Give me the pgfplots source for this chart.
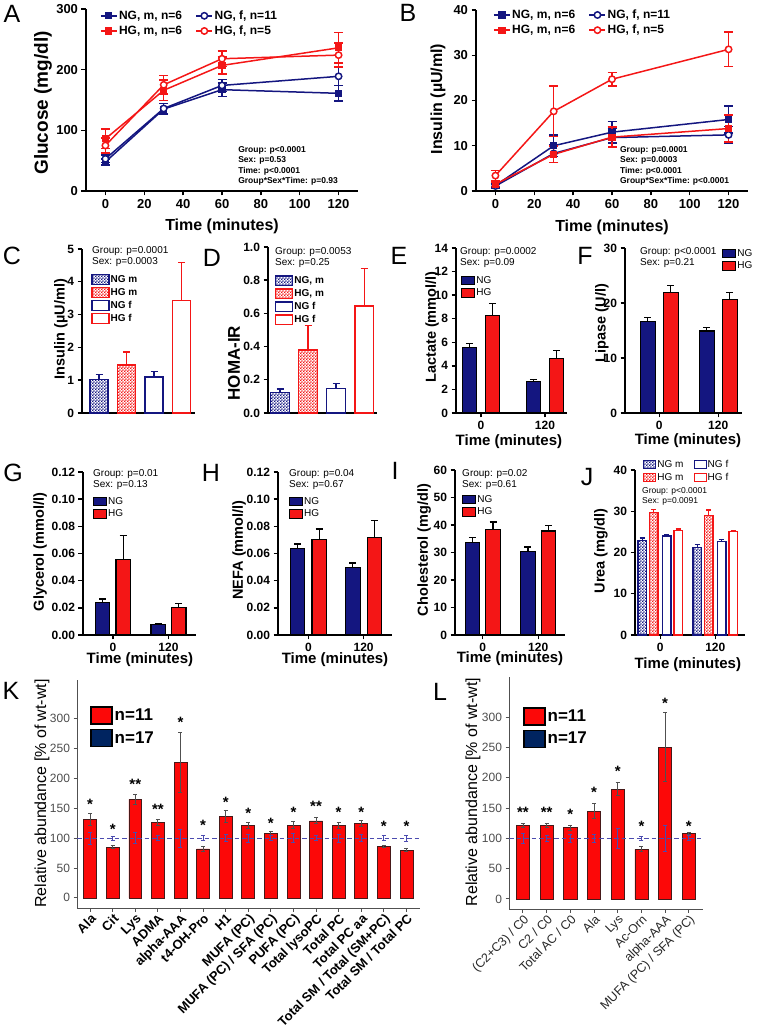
\documentclass[border=0pt]{standalone}
\usepackage{fontspec}
\setmainfont{Liberation Sans}
\usepackage{pgfplots}
\pgfplotsset{compat=1.18}
\usetikzlibrary{patterns}
\definecolor{ngb}{RGB}{20,22,128}
\definecolor{hgr}{RGB}{244,22,22}
\definecolor{kred}{RGB}{252,8,8}
\definecolor{kout}{RGB}{70,25,25}
\definecolor{knavy}{RGB}{0,36,96}
\definecolor{kblue}{RGB}{75,75,175}
\definecolor{kgrey}{RGB}{80,80,80}
\definecolor{ktick}{RGB}{77,77,77}
\pgfdeclarepatternformonly{smallcheck}{\pgfpointorigin}{\pgfpoint{3.2pt}{3.2pt}}{\pgfpoint{3.2pt}{3.2pt}}{%
  \pgfpathrectangle{\pgfpointorigin}{\pgfpoint{1.6pt}{1.6pt}}%
  \pgfpathrectangle{\pgfpoint{1.6pt}{1.6pt}}{\pgfpoint{1.6pt}{1.6pt}}%
  \pgfusepath{fill}}
\pgfplotsset{
  gp/.style={scale only axis, clip=false, axis lines*=left,
    axis line style={line width=1.4pt,-},
    every tick/.style={line width=1.4pt,black},
    major tick length=4.5pt, tick align=outside,
    /pgf/number format/assume math mode=true,
    ticklabel style={font=\bfseries\fontsize{12}{12}\selectfont},
    label style={font=\bfseries\fontsize{15}{15}\selectfont, anchor=center},
    ylabel style={font=\bfseries\fontsize{14.5}{14.5}\selectfont},
    legend cell align=left},
  gg/.style={scale only axis, clip=false, axis lines*=left,
    axis line style={line width=1pt,kgrey,-},
    every tick/.style={line width=1pt,kgrey},
    major tick length=3.5pt, tick align=outside,
    /pgf/number format/assume math mode=true,
    yticklabel style={font=\fontsize{12}{12}\selectfont, ktick},
    label style={font=\fontsize{16}{16}\selectfont, anchor=center},
    legend cell align=left},
  boxleg/.style 2 args={legend image code/.code={\draw[##1] (0pt,-#2) rectangle (#1,#2);}},
  kleg/.style={legend image code/.code={\draw[##1, draw=black, line width=1.5pt] (0pt,-8.5pt) rectangle (21pt,8.5pt);}},
  ebar/.style={error bars/.cd, y dir=plus, y explicit,
    error bar style={line width=1.2pt,#1},
    error mark options={rotate=90,mark size=3.5pt,line width=1.2pt,#1}},
  lyerr/.style={error bars/.cd, y dir=both, y explicit,
    error bar style={line width=1.5pt, solid},
    error mark options={rotate=90, mark size=4.5pt, line width=1.5pt}},
  gpleg/.style={legend style={at={(#1)}, anchor=north west, draw=none, fill=none, inner sep=0pt, row sep=2.2pt, font=\fontsize{10}{10}\selectfont, nodes={inner sep=1pt}}},
  lineleg/.style={legend columns=2,
    legend style={at={(#1)}, anchor=north west, draw=none, fill=none, inner sep=0pt, row sep=2pt, font=\bfseries\fontsize{12}{12}\selectfont, nodes={inner sep=1.5pt}, /tikz/every even column/.append style={column sep=12pt}},
    legend image code/.code={\draw[mark repeat=2,mark phase=2,##1] plot coordinates {(0pt,0pt) (8pt,0pt) (16pt,0pt)};}},
}
\begin{document}
\begin{tikzpicture}
\useasboundingbox (0,0) rectangle (757pt,1028pt);

% ---------------- A ----------------
\begin{axis}[gp, at={(86pt,837pt)}, anchor=south west, width=272pt, height=182pt,
  xmin=-10, xmax=130, ymin=0, ymax=300,
  xtick={0,20,40,60,80,100,120}, ytick={0,100,200,300},
  ticklabel style={font=\bfseries\fontsize{13}{13}\selectfont},
  xlabel={Time (minutes)}, ylabel={Glucose (mg/dl)},
  xlabel style={font=\bfseries\fontsize{16}{16}\selectfont, at={(axis description cs:0.5,-0.192)}},
  ylabel style={font=\bfseries\fontsize{19}{19}\selectfont, at={(axis description cs:-0.158,0.484)}},
  lineleg={0.051,1.0}]
\addplot[ngb, line width=1.5pt, mark=square*, mark size=2.8pt, lyerr] coordinates {(0,48) +- (0,5) (30,135) +- (0,9) (60,167) +- (0,11) (120,161) +- (0,13)};
\addlegendentry{NG, m, n=6}
\addplot[ngb, line width=1.5pt, mark=*, mark size=3.2pt, mark options={fill=white}, lyerr] coordinates {(0,53) +- (0,6) (30,136) +- (0,8) (60,174) +- (0,10) (120,189) +- (0,15)};
\addlegendentry{NG, f, n=11}
\addplot[hgr, line width=1.5pt, mark=square*, mark size=2.8pt, lyerr] coordinates {(0,86) +- (0,16) (30,166) +- (0,17) (60,207) +- (0,14) (120,236) +- (0,25)};
\addlegendentry{HG, m, n=6}
\addplot[hgr, line width=1.5pt, mark=*, mark size=3.2pt, mark options={fill=white}, lyerr] coordinates {(0,75) +- (0,12) (30,175) +- (0,15) (60,218) +- (0,13) (120,224) +- (0,20)};
\addlegendentry{HG, f, n=5}
\node[anchor=north west, align=left, inner sep=0pt, font=\bfseries\fontsize{8.5}{10.5}\selectfont] at (rel axis cs:0.559,0.247) {Group: p<0.0001\\Sex: p=0.53\\Time: p<0.0001\\Group*Sex*Time: p=0.93};
\end{axis}

% ---------------- B ----------------
\begin{axis}[gp, at={(476pt,837pt)}, anchor=south west, width=272pt, height=181pt,
  xmin=-10, xmax=130, ymin=0, ymax=40,
  xtick={0,20,40,60,80,100,120}, ytick={0,10,20,30,40},
  ticklabel style={font=\bfseries\fontsize{13}{13}\selectfont},
  xlabel={Time (minutes)}, ylabel={Insulin (µU/ml)},
  xlabel style={font=\bfseries\fontsize{16}{16}\selectfont, at={(axis description cs:0.5,-0.199)}},
  ylabel style={font=\bfseries\fontsize{16}{16}\selectfont, at={(axis description cs:-0.14,0.508)}},
  lineleg={0.0625,1.01}]
\addplot[ngb, line width=1.5pt, mark=square*, mark size=2.8pt, lyerr] coordinates {(0,1.2) +- (0,0.4) (30,10.0) +- (0,2.4) (60,13.0) +- (0,2.4) (120,15.8) +- (0,3.0)};
\addlegendentry{NG, m, n=6}
\addplot[ngb, line width=1.5pt, mark=*, mark size=3.2pt, mark options={fill=white}, lyerr] coordinates {(0,1.1) +- (0,0.4) (30,8.3) +- (0,2.0) (60,11.8) +- (0,2.0) (120,12.4) +- (0,1.8)};
\addlegendentry{NG, f, n=11}
\addplot[hgr, line width=1.5pt, mark=square*, mark size=2.8pt, lyerr] coordinates {(0,1.5) +- (0,0.5) (30,8.1) +- (0,1.8) (60,11.9) +- (0,2.2) (120,13.8) +- (0,3.0)};
\addlegendentry{HG, m, n=6}
\addplot[hgr, line width=1.5pt, mark=*, mark size=3.2pt, mark options={fill=white}, lyerr] coordinates {(0,3.4) +- (0,1.1) (30,17.6) +- (0,5.6) (60,24.7) +- (0,1.5) (120,31.3) +- (0,3.8)};
\addlegendentry{HG, f, n=5}
\node[anchor=north west, align=left, inner sep=0pt, font=\bfseries\fontsize{8.5}{10.5}\selectfont] at (rel axis cs:0.529,0.249) {Group: p=0.0001\\Sex: p=0.0003\\Time: p<0.0001\\Group*Sex*Time: p<0.0001};
\end{axis}

% ---------------- C ----------------
\begin{axis}[gp, at={(82pt,615pt)}, anchor=south west, width=113pt, height=164pt,
  xmin=0.38, xmax=4.49, ymin=0, ymax=5, xtick=\empty, ytick={0,1,2,3,4,5},
  ylabel={Insulin (µU/ml)}, ylabel style={at={(axis description cs:-0.186,0.512)}},
  gpleg={0.08,0.848}, legend style={font=\bfseries\fontsize{10}{10}\selectfont}]
\addplot[ybar, bar width=0.65, bar shift=0pt, draw=ngb, line width=1.3pt, pattern=smallcheck, pattern color=ngb, boxleg={17pt}{4.75pt}, ebar=ngb] coordinates {(1,1.03) +- (0,0.15)};
\addlegendentry{NG m}
\addplot[ybar, bar width=0.65, bar shift=0pt, draw=hgr, line width=1.3pt, pattern=smallcheck, pattern color=hgr, boxleg={17pt}{4.75pt}, ebar=hgr] coordinates {(2,1.46) +- (0,0.40)};
\addlegendentry{HG m}
\addplot[ybar, bar width=0.65, bar shift=0pt, draw=ngb, line width=1.3pt, fill=white, boxleg={17pt}{4.75pt}, ebar=ngb] coordinates {(3,1.10) +- (0,0.17)};
\addlegendentry{NG f}
\addplot[ybar, bar width=0.65, bar shift=0pt, draw=hgr, line width=1.3pt, fill=white, boxleg={17pt}{4.75pt}, ebar=hgr] coordinates {(4,3.42) +- (0,1.17)};
\addlegendentry{HG f}
\node[anchor=north west, align=left, inner sep=0pt, font=\fontsize{10}{11}\selectfont] at (rel axis cs:0.088,1.018) {Group: p=0.0001\\Sex: p=0.0003};
\end{axis}

% ---------------- D ----------------
\begin{axis}[gp, at={(268pt,615pt)}, anchor=south west, width=109pt, height=166pt,
  xmin=0.57, xmax=4.46, ymin=0, ymax=1, xtick=\empty, ytick={0,0.2,0.4,0.6,0.8,1.0},
  scaled y ticks=false, yticklabel style={/pgf/number format/.cd, fixed, fixed zerofill, precision=1},
  ylabel={HOMA-IR}, ylabel style={font=\bfseries\fontsize{17}{17}\selectfont, at={(axis description cs:-0.312,0.301)}},
  gpleg={0.064,0.831}, legend style={font=\bfseries\fontsize{10}{10}\selectfont}]
\addplot[ybar, bar width=0.66, bar shift=0pt, draw=ngb, line width=1.3pt, pattern=smallcheck, pattern color=ngb, boxleg={17pt}{4.75pt}, ebar=ngb] coordinates {(1,0.125) +- (0,0.02)};
\addlegendentry{NG, m}
\addplot[ybar, bar width=0.66, bar shift=0pt, draw=hgr, line width=1.3pt, pattern=smallcheck, pattern color=hgr, boxleg={17pt}{4.75pt}, ebar=hgr] coordinates {(2,0.38) +- (0,0.145)};
\addlegendentry{HG, m}
\addplot[ybar, bar width=0.66, bar shift=0pt, draw=ngb, line width=1.3pt, fill=white, boxleg={17pt}{4.75pt}, ebar=ngb] coordinates {(3,0.148) +- (0,0.03)};
\addlegendentry{NG f}
\addplot[ybar, bar width=0.66, bar shift=0pt, draw=hgr, line width=1.3pt, fill=white, boxleg={17pt}{4.75pt}, ebar=hgr] coordinates {(4,0.645) +- (0,0.225)};
\addlegendentry{HG f}
\node[anchor=north west, align=left, inner sep=0pt, font=\fontsize{10}{11}\selectfont] at (rel axis cs:0.064,1.0) {Group: p=0.0053\\Sex: p=0.25};
\end{axis}

% ---------------- E ----------------
\begin{axis}[gp, at={(456pt,615pt)}, anchor=south west, width=111pt, height=165pt,
  xmin=-0.39, xmax=1.344, ymin=0, ymax=14, xtick={0,1}, xticklabels={0,120}, ytick={0,2,4,6,8,10,12,14},
  xlabel={Time (minutes)}, xlabel style={at={(axis description cs:0.477,-0.176)}},
  ylabel={Lactate (mmol/l)}, ylabel style={at={(axis description cs:-0.216,0.521)}},
  gpleg={0.045,0.836}]
\addplot[ybar, bar width=0.23, bar shift=0pt, fill=ngb, draw=black, line width=1.1pt, boxleg={13pt}{4.25pt}, ebar=black] coordinates {(-0.18,5.55) +- (0,0.35) (0.82,2.7) +- (0,0.12)};
\addlegendentry{NG}
\addplot[ybar, bar width=0.23, bar shift=0pt, fill=hgr, draw=black, line width=1.1pt, boxleg={13pt}{4.25pt}, ebar=black] coordinates {(0.18,8.3) +- (0,1.0) (1.18,4.6) +- (0,0.7)};
\addlegendentry{HG}
\node[anchor=north west, align=left, inner sep=0pt, font=\fontsize{10}{11}\selectfont] at (rel axis cs:0.036,1.006) {Group: p=0.0002\\Sex: p=0.09};
\end{axis}

% ---------------- F ----------------
\begin{axis}[gp, at={(625pt,615pt)}, anchor=south west, width=117pt, height=165pt,
  xmin=-0.58, xmax=1.403, ymin=0, ymax=30, xtick={0,1}, xticklabels={0,120}, ytick={0,10,20,30},
  xlabel={Time (minutes)}, xlabel style={at={(axis description cs:0.538,-0.17)}},
  ylabel={Lipase (U/l)}, ylabel style={at={(axis description cs:-0.197,0.545)}},
  gpleg={0.829,1.0}]
\addplot[ybar, bar width=0.25, bar shift=0pt, fill=ngb, draw=black, line width=1.1pt, boxleg={13pt}{4.25pt}, ebar=black] coordinates {(-0.195,16.6) +- (0,0.7) (0.805,14.9) +- (0,0.6)};
\addlegendentry{NG}
\addplot[ybar, bar width=0.25, bar shift=0pt, fill=hgr, draw=black, line width=1.1pt, boxleg={13pt}{4.25pt}, ebar=black] coordinates {(0.195,21.9) +- (0,1.3) (1.195,20.6) +- (0,1.3)};
\addlegendentry{HG}
\node[anchor=north west, align=left, inner sep=0pt, font=\fontsize{10}{11}\selectfont] at (rel axis cs:0.128,1.006) {Group: p<0.0001\\Sex: p=0.21};
\end{axis}

% ---------------- G ----------------
\begin{axis}[gp, at={(83pt,393pt)}, anchor=south west, width=113pt, height=163pt,
  xmin=-0.54, xmax=1.496, ymin=0, ymax=0.12, xtick={0,1}, xticklabels={0,120},
  ytick={0,0.02,0.04,0.06,0.08,0.10,0.12}, scaled y ticks=false,
  yticklabel style={/pgf/number format/.cd, fixed, fixed zerofill, precision=2},
  xlabel={Time (minutes)}, xlabel style={at={(axis description cs:0.504,-0.153)}},
  ylabel={Glycerol (mmol/l)}, ylabel style={at={(axis description cs:-0.38,0.509)}},
  gpleg={0.088,0.853}]
\addplot[ybar, bar width=0.26, bar shift=0pt, fill=ngb, draw=black, line width=1.1pt, boxleg={13pt}{4.25pt}, ebar=black] coordinates {(-0.185,0.024) +- (0,0.0025) (0.815,0.008) +- (0,0.0007)};
\addlegendentry{NG}
\addplot[ybar, bar width=0.26, bar shift=0pt, fill=hgr, draw=black, line width=1.1pt, boxleg={13pt}{4.25pt}, ebar=black] coordinates {(0.185,0.0555) +- (0,0.0175) (1.185,0.020) +- (0,0.003)};
\addlegendentry{HG}
\node[anchor=north west, align=left, inner sep=0pt, font=\fontsize{10}{11}\selectfont] at (rel axis cs:0.088,1.018) {Group: p=0.01\\Sex: p=0.13};
\end{axis}

% ---------------- H ----------------
\begin{axis}[gp, at={(278pt,393pt)}, anchor=south west, width=114pt, height=163pt,
  xmin=-0.55, xmax=1.513, ymin=0, ymax=0.12, xtick={0,1}, xticklabels={0,120},
  ytick={0,0.02,0.04,0.06,0.08,0.10,0.12}, scaled y ticks=false,
  yticklabel style={/pgf/number format/.cd, fixed, fixed zerofill, precision=2},
  xlabel={Time (minutes)}, xlabel style={at={(axis description cs:0.5,-0.153)}},
  ylabel={NEFA (mmol/l)}, ylabel style={at={(axis description cs:-0.342,0.521)}},
  gpleg={0.096,0.853}]
\addplot[ybar, bar width=0.26, bar shift=0pt, fill=ngb, draw=black, line width=1.1pt, boxleg={13pt}{4.25pt}, ebar=black] coordinates {(-0.195,0.0635) +- (0,0.0035) (0.805,0.0495) +- (0,0.0035)};
\addlegendentry{NG}
\addplot[ybar, bar width=0.26, bar shift=0pt, fill=hgr, draw=black, line width=1.1pt, boxleg={13pt}{4.25pt}, ebar=black] coordinates {(0.195,0.070) +- (0,0.008) (1.195,0.072) +- (0,0.012)};
\addlegendentry{HG}
\node[anchor=north west, align=left, inner sep=0pt, font=\fontsize{10}{11}\selectfont] at (rel axis cs:0.096,1.018) {Group: p=0.04\\Sex: p=0.67};
\end{axis}

% ---------------- I ----------------
\begin{axis}[gp, at={(455pt,393pt)}, anchor=south west, width=110pt, height=165pt,
  xmin=-0.5, xmax=1.482, ymin=0, ymax=60, xtick={0,1}, xticklabels={0,120}, ytick={0,10,20,30,40,50,60},
  xlabel={Time (minutes)}, xlabel style={at={(axis description cs:0.5,-0.145)}},
  ylabel={Cholesterol (mg/dl)}, ylabel style={at={(axis description cs:-0.28,0.515)}},
  gpleg={0.064,0.855}]
\addplot[ybar, bar width=0.26, bar shift=0pt, fill=ngb, draw=black, line width=1.1pt, boxleg={13pt}{4.25pt}, ebar=black] coordinates {(-0.185,33.5) +- (0,2.0) (0.815,30.2) +- (0,1.8)};
\addlegendentry{NG}
\addplot[ybar, bar width=0.26, bar shift=0pt, fill=hgr, draw=black, line width=1.1pt, boxleg={13pt}{4.25pt}, ebar=black] coordinates {(0.185,38.4) +- (0,2.7) (1.185,37.8) +- (0,2.0)};
\addlegendentry{HG}
\node[anchor=north west, align=left, inner sep=0pt, font=\fontsize{10}{11}\selectfont] at (rel axis cs:0.064,1.006) {Group: p=0.02\\Sex: p=0.61};
\end{axis}

% ---------------- J ----------------
\begin{axis}[gp, at={(635pt,393pt)}, anchor=south west, width=110pt, height=165pt,
  xmin=-0.46, xmax=1.54, ymin=0, ymax=40, xtick={0,1}, xticklabels={0,120}, ytick={0,10,20,30,40},
  xlabel={Time (minutes)}, xlabel style={at={(axis description cs:0.48,-0.18)}},
  ylabel={Urea (mg/dl)}, ylabel style={at={(axis description cs:-0.31,0.509)}},
  gpleg={0.073,1.067}, legend columns=2, legend style={/tikz/every even column/.append style={column sep=9pt}}]
\addplot[ybar, bar width=0.155, bar shift=0pt, draw=ngb, line width=1.2pt, pattern=smallcheck, pattern color=ngb, boxleg={12pt}{4.25pt}, ebar={ngb,mark size=2.6pt}] coordinates {(-0.327,23.0) +- (0,0.5) (0.673,21.3) +- (0,0.6)};
\addlegendentry{NG m}
\addplot[ybar, bar width=0.155, bar shift=0pt, draw=ngb, line width=1.2pt, fill=white, boxleg={12pt}{4.25pt}, ebar={ngb,mark size=2.6pt}] coordinates {(0.118,24.0) +- (0,0.4) (1.118,22.7) +- (0,0.4)};
\addlegendentry{NG f}
\addplot[ybar, bar width=0.155, bar shift=0pt, draw=hgr, line width=1.2pt, pattern=smallcheck, pattern color=hgr, boxleg={12pt}{4.25pt}, ebar={hgr,mark size=2.6pt}] coordinates {(-0.118,29.7) +- (0,0.8) (0.882,29.0) +- (0,1.3)};
\addlegendentry{HG m}
\addplot[ybar, bar width=0.155, bar shift=0pt, draw=hgr, line width=1.2pt, fill=white, boxleg={12pt}{4.25pt}, ebar={hgr,mark size=2.6pt}] coordinates {(0.327,25.4) +- (0,0.3) (1.327,25.0) +- (0,0.3)};
\addlegendentry{HG f}
\node[anchor=north west, align=left, inner sep=0pt, font=\fontsize{8.5}{10}\selectfont] at (rel axis cs:0.064,0.897) {Group: p<0.0001\\Sex: p=0.0091};
\end{axis}

% ---------------- K ----------------
\begin{axis}[gg, at={(77pt,120pt)}, anchor=south west, width=343pt, height=228pt,
  xmin=0.42, xmax=15.6, ymin=-17, ymax=365, ytick={0,50,100,150,200,250,300}, xtick={1,...,15},
  xticklabels={Ala,Cit,Lys,ADMA,alpha-AAA,t4-OH-Pro,H1,MUFA (PC),MUFA (PC) / SFA (PC),PUFA (PC),Total lysoPC,Total PC,Total PC aa,Total SM / Total (SM+PC),Total SM / Total PC},
  x tick label style={rotate=45, anchor=north east, font=\bfseries\fontsize{13}{13}\selectfont, black, inner sep=1pt},
  ylabel={Relative abundance [\% of wt-wt]}, ylabel style={at={(axis description cs:-0.102,0.502)}},
  legend style={at={(0.038,0.886)}, anchor=north west, draw=none, fill=none, inner sep=0pt, row sep=4pt, font=\bfseries\fontsize{17}{17}\selectfont, nodes={inner sep=2pt}}]
\addplot[ybar, bar width=0.57, bar shift=0pt, fill=kred, draw=kout, line width=0.7pt, kleg,
  error bars/.cd, y dir=both, y explicit, error bar style={kgrey, line width=0.9pt}, error mark options={rotate=90, mark size=2pt, kgrey, line width=0.9pt}]
  coordinates {(1,131) +- (0,10) (2,85) +- (0,3) (3,165) +- (0,8) (4,126) +- (0,5) (5,227) +- (0,50) (6,82) +- (0,4) (7,136) +- (0,10) (8,122) +- (0,5) (9,108) +- (0,3) (10,122) +- (0,6) (11,129) +- (0,5) (12,122) +- (0,5) (13,124) +- (0,5) (14,86) +- (0,2) (15,80) +- (0,3)};
\addlegendentry{n=11}
\addlegendimage{kleg, fill=knavy}
\addlegendentry{n=17}
\addplot[kblue, line width=1pt, dash pattern=on 4.5pt off 3pt, forget plot] coordinates {(0.42,100) (15.6,100)};
\addplot[draw=none, mark=none, forget plot, error bars/.cd, y dir=both, y explicit, error bar style={draw=kblue, line width=0.9pt, solid}, error mark options={rotate=90, mark size=2pt, draw=kblue, line width=0.9pt}]
  coordinates {(1,100) +- (0,10) (2,100) +- (0,3) (3,100) +- (0,9) (4,100) +- (0,4) (5,100) +- (0,15) (6,100) +- (0,4) (7,100) +- (0,6) (8,100) +- (0,7) (9,100) +- (0,4) (10,100) +- (0,8) (11,100) +- (0,4) (12,100) +- (0,7) (13,100) +- (0,6) (14,100) +- (0,4) (15,100) +- (0,5)};
\begin{scope}[font=\bfseries\fontsize{15}{15}\selectfont]
\node at (axis cs:1,157) {*};
\node at (axis cs:2,115) {*};
\node at (axis cs:3,190) {**};
\node at (axis cs:4,149) {**};
\node at (axis cs:5,294) {*};
\node at (axis cs:6,121) {*};
\node at (axis cs:7,160) {*};
\node at (axis cs:8,142) {*};
\node at (axis cs:9,125) {*};
\node at (axis cs:10,143) {*};
\node at (axis cs:11,154) {**};
\node at (axis cs:12,143) {*};
\node at (axis cs:13,143) {*};
\node at (axis cs:14,119) {*};
\node at (axis cs:15,119) {*};
\end{scope}
\end{axis}

% ---------------- L ----------------
\begin{axis}[gg, at={(509pt,119pt)}, anchor=south west, width=194pt, height=232pt,
  xmin=0.41, xmax=8.6, ymin=-16.5, ymax=366, ytick={0,50,100,150,200,250,300}, xtick={1,...,8},
  xticklabels={(C2+C3) / C0,C2 / C0,Total AC / C0,Ala,Lys,Ac-Orn,alpha-AAA,MUFA (PC) / SFA (PC)},
  x tick label style={rotate=45, anchor=north east, font=\fontsize{12.5}{12.5}\selectfont, black!85, inner sep=1pt},
  ylabel={Relative abundance [\% of wt-wt]}, ylabel style={at={(axis description cs:-0.186,0.504)}},
  legend style={at={(0.072,0.871)}, anchor=north west, draw=none, fill=none, inner sep=0pt, row sep=4pt, font=\bfseries\fontsize{17}{17}\selectfont, nodes={inner sep=2pt}}]
\addplot[ybar, bar width=0.55, bar shift=0pt, fill=kred, draw=kout, line width=0.7pt, kleg,
  error bars/.cd, y dir=both, y explicit, error bar style={kgrey, line width=0.9pt}, error mark options={rotate=90, mark size=2pt, kgrey, line width=0.9pt}]
  coordinates {(1,121) +- (0,3) (2,121.5) +- (0,3) (3,117.5) +- (0,4) (4,145) +- (0,12) (5,181) +- (0,11) (6,82) +- (0,4) (7,250) +- (0,57) (8,108) +- (0,2)};
\addlegendentry{n=11}
\addlegendimage{kleg, fill=knavy}
\addlegendentry{n=17}
\addplot[kblue, line width=1pt, dash pattern=on 4.5pt off 3pt, forget plot] coordinates {(0.41,100) (8.6,100)};
\addplot[draw=none, mark=none, forget plot, error bars/.cd, y dir=both, y explicit, error bar style={draw=kblue, line width=0.9pt, solid}, error mark options={rotate=90, mark size=2pt, draw=kblue, line width=0.9pt}]
  coordinates {(1,100) +- (0,8) (2,100) +- (0,5) (3,100) +- (0,6) (4,100) +- (0,7) (5,100) +- (0,16) (6,100) +- (0,3) (7,100) +- (0,22) (8,100) +- (0,4)};
\begin{scope}[font=\bfseries\fontsize{15}{15}\selectfont]
\node at (axis cs:1,143) {**};
\node at (axis cs:2,143) {**};
\node at (axis cs:3,140) {*};
\node at (axis cs:4,176) {*};
\node at (axis cs:5,211) {*};
\node at (axis cs:6,120) {*};
\node at (axis cs:7,323) {*};
\node at (axis cs:8,120) {*};
\end{scope}
\end{axis}

% panel letters
\begin{scope}[every node/.style={font=\fontsize{25}{25}\selectfont, inner sep=0pt}]
\node at (12pt,1014pt) {A};
\node at (408pt,1015pt) {B};
\node at (12pt,772pt) {C};
\node at (212pt,770pt) {D};
\node at (399pt,772pt) {E};
\node at (585pt,772pt) {F};
\node at (13pt,555pt) {G};
\node at (211pt,555pt) {H};
\node at (395pt,557pt) {I};
\node at (587pt,551pt) {J};
\node at (11pt,337pt) {K};
\node at (440pt,336pt) {L};
\end{scope}
\end{tikzpicture}
\end{document}
